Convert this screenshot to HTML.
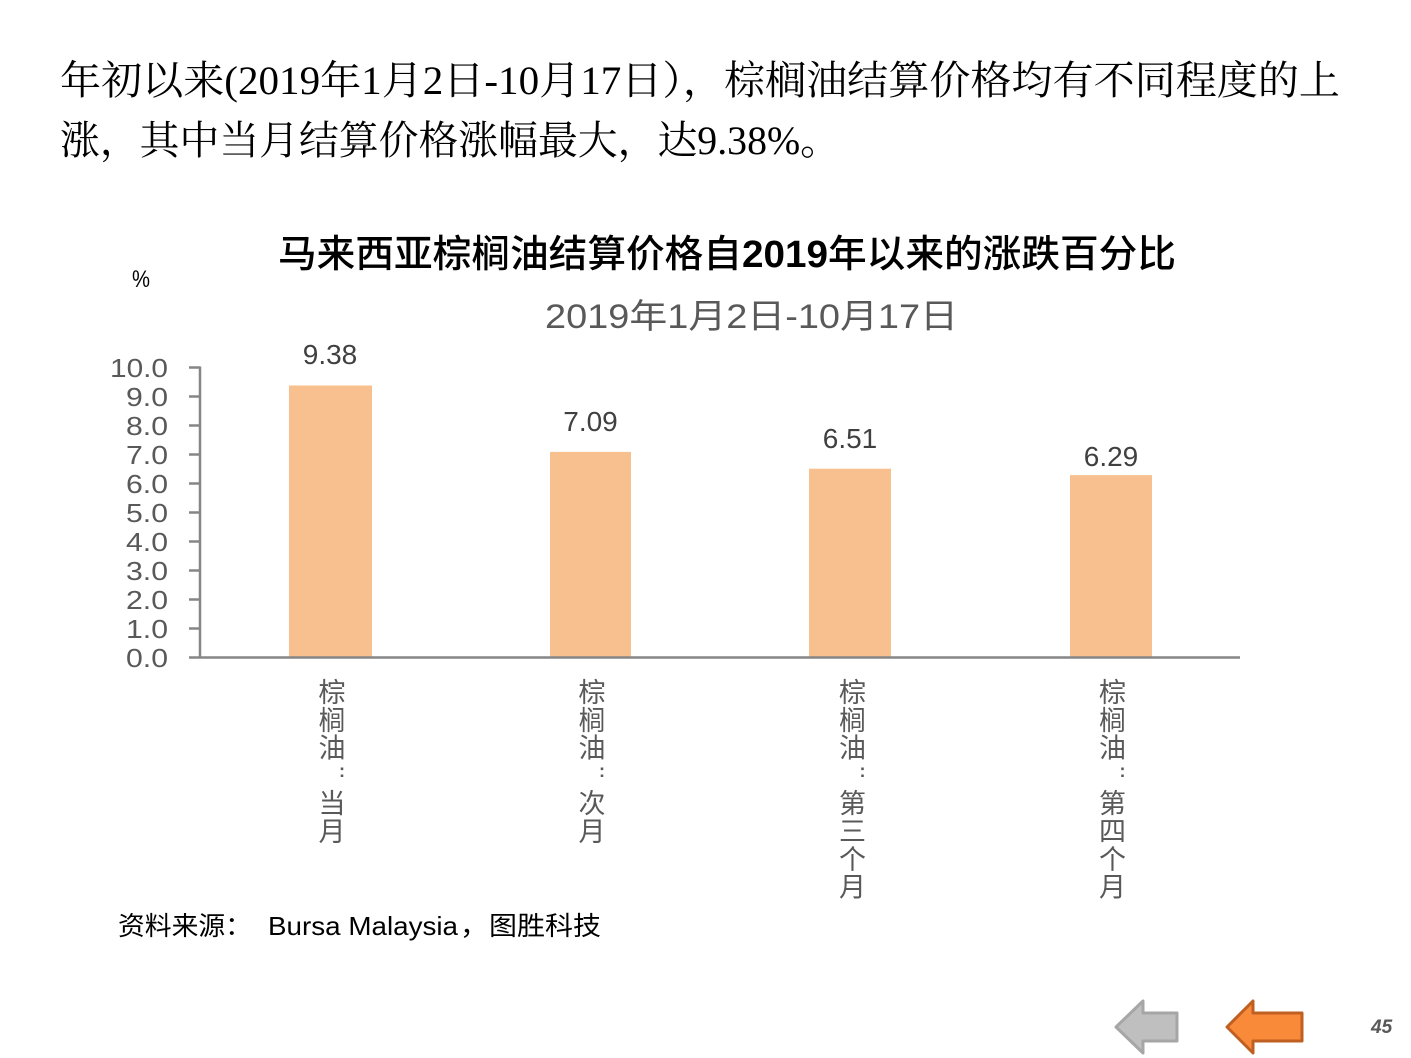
<!DOCTYPE html>
<html>
<head>
<meta charset="utf-8">
<style>
  html, body { margin: 0; padding: 0; background: #ffffff; }
  body { width: 1411px; height: 1058px; overflow: hidden; }
  svg { display: block; }
</style>
</head>
<body>
<svg width="1411" height="1058" viewBox="0 0 1411 1058" xmlns="http://www.w3.org/2000/svg">
  <rect x="0" y="0" width="1411" height="1058" fill="#ffffff"/>

  <!-- Body text -->
  <g font-family="'Liberation Serif', 'Noto Serif CJK SC', serif" font-size="40" fill="#000000">
    <text x="60" y="94" textLength="1280" lengthAdjust="spacingAndGlyphs">年初以来(2019年1月2日-10月17日），棕榈油结算价格均有不同程度的上</text>
    <text x="60" y="154" textLength="780" lengthAdjust="spacingAndGlyphs">涨，其中当月结算价格涨幅最大，达9.38%。</text>
  </g>

  <!-- Chart title -->
  <text x="278" y="267" font-family="'Liberation Sans', 'Noto Sans CJK SC', sans-serif" font-size="38" font-weight="500" fill="#000000" textLength="898" lengthAdjust="spacingAndGlyphs">马来西亚棕榈油结算价格自<tspan font-weight="bold">2019</tspan>年以来的涨跌百分比</text>

  <!-- Subtitle -->
  <text x="545" y="328" font-family="'Liberation Sans', 'Noto Sans CJK SC', sans-serif" font-size="34" fill="#595959" textLength="413" lengthAdjust="spacingAndGlyphs">2019年1月2日-10月17日</text>

  <!-- % unit -->
  <text x="132" y="287" font-family="'Liberation Sans', sans-serif" font-size="24" fill="#000000" textLength="18" lengthAdjust="spacingAndGlyphs">%</text>

  <!-- Y tick labels -->
  <g font-family="'Liberation Sans', sans-serif" font-size="26" fill="#595959">
    <text x="110" y="376.8" textLength="58" lengthAdjust="spacingAndGlyphs">10.0</text>
    <text x="126" y="405.8" textLength="42" lengthAdjust="spacingAndGlyphs">9.0</text>
    <text x="126" y="434.8" textLength="42" lengthAdjust="spacingAndGlyphs">8.0</text>
    <text x="126" y="463.8" textLength="42" lengthAdjust="spacingAndGlyphs">7.0</text>
    <text x="126" y="492.8" textLength="42" lengthAdjust="spacingAndGlyphs">6.0</text>
    <text x="126" y="521.8" textLength="42" lengthAdjust="spacingAndGlyphs">5.0</text>
    <text x="126" y="550.8" textLength="42" lengthAdjust="spacingAndGlyphs">4.0</text>
    <text x="126" y="579.8" textLength="42" lengthAdjust="spacingAndGlyphs">3.0</text>
    <text x="126" y="608.8" textLength="42" lengthAdjust="spacingAndGlyphs">2.0</text>
    <text x="126" y="637.8" textLength="42" lengthAdjust="spacingAndGlyphs">1.0</text>
    <text x="126" y="666.8" textLength="42" lengthAdjust="spacingAndGlyphs">0.0</text>
  </g>

  <!-- Bars -->
  <g fill="#F8C08E">
    <rect x="289" y="385.5" width="83" height="272"/>
    <rect x="550" y="451.9" width="81" height="205.6"/>
    <rect x="809" y="468.7" width="82" height="188.8"/>
    <rect x="1070" y="475.1" width="82" height="182.4"/>
  </g>

  <!-- Axes -->
  <g stroke="#868686" stroke-width="2.5" fill="none">
    <line x1="200" y1="366.5" x2="200" y2="658"/>
    <line x1="189" y1="657.5" x2="1240" y2="657.5"/>
    <line x1="189" y1="367.5" x2="200" y2="367.5"/>
    <line x1="189" y1="396.5" x2="200" y2="396.5"/>
    <line x1="189" y1="425.5" x2="200" y2="425.5"/>
    <line x1="189" y1="454.5" x2="200" y2="454.5"/>
    <line x1="189" y1="483.5" x2="200" y2="483.5"/>
    <line x1="189" y1="512.5" x2="200" y2="512.5"/>
    <line x1="189" y1="541.5" x2="200" y2="541.5"/>
    <line x1="189" y1="570.5" x2="200" y2="570.5"/>
    <line x1="189" y1="599.5" x2="200" y2="599.5"/>
    <line x1="189" y1="628.5" x2="200" y2="628.5"/>
  </g>

  <!-- Data labels -->
  <g font-family="'Liberation Sans', sans-serif" font-size="28" fill="#404040" text-anchor="middle">
    <text x="330" y="364">9.38</text>
    <text x="590.5" y="431">7.09</text>
    <text x="850" y="448">6.51</text>
    <text x="1111" y="466">6.29</text>
  </g>

  <!-- Category labels (vertical) -->
  <g font-family="'Liberation Sans', 'Noto Sans CJK SC', sans-serif" font-size="27" fill="#595959" text-anchor="middle">
    <!-- 1 -->
    <text x="332" y="702">棕</text>
    <text x="332" y="729.8">榈</text>
    <text x="332" y="757.6">油</text>
    <text x="342" y="777" font-size="18" font-weight="bold">:</text>
    <text x="332" y="813.2">当</text>
    <text x="332" y="841">月</text>
    <!-- 2 -->
    <text x="592" y="702">棕</text>
    <text x="592" y="729.8">榈</text>
    <text x="592" y="757.6">油</text>
    <text x="602" y="777" font-size="18" font-weight="bold">:</text>
    <text x="592" y="813.2">次</text>
    <text x="592" y="841">月</text>
    <!-- 3 -->
    <text x="852.5" y="702">棕</text>
    <text x="852.5" y="729.8">榈</text>
    <text x="852.5" y="757.6">油</text>
    <text x="862.5" y="777" font-size="18" font-weight="bold">:</text>
    <text x="852.5" y="813.2">第</text>
    <text x="852.5" y="841">三</text>
    <text x="852.5" y="868.8">个</text>
    <text x="852.5" y="896.6">月</text>
    <!-- 4 -->
    <text x="1112.5" y="702">棕</text>
    <text x="1112.5" y="729.8">榈</text>
    <text x="1112.5" y="757.6">油</text>
    <text x="1122.5" y="777" font-size="18" font-weight="bold">:</text>
    <text x="1112.5" y="813.2">第</text>
    <text x="1112.5" y="841">四</text>
    <text x="1112.5" y="868.8">个</text>
    <text x="1112.5" y="896.6">月</text>
  </g>

  <!-- Source -->
  <g font-family="'Liberation Sans', 'Noto Sans CJK SC', sans-serif" font-size="26" fill="#000000">
    <text x="118" y="935" textLength="134" lengthAdjust="spacingAndGlyphs">资料来源：</text>
    <text x="268" y="935" textLength="190" lengthAdjust="spacingAndGlyphs">Bursa Malaysia</text>
    <text x="460" y="935" textLength="28" lengthAdjust="spacingAndGlyphs">，</text>
    <text x="489" y="935" textLength="112" lengthAdjust="spacingAndGlyphs">图胜科技</text>
  </g>

  <!-- Navigation arrows -->
  <polygon points="1116,1027 1143,1001 1143,1013 1177,1013 1177,1041 1143,1041 1143,1053"
           fill="#BFBFBF" stroke="#A6A6A6" stroke-width="3" stroke-linejoin="round"/>
  <polygon points="1227,1027 1253,1001 1253,1013 1302,1013 1302,1041 1253,1041 1253,1053"
           fill="#F88A3A" stroke="#BF5F22" stroke-width="3" stroke-linejoin="round"/>

  <!-- Page number -->
  <text x="1371" y="1033" font-family="'Liberation Sans', sans-serif" font-size="19" font-weight="bold" font-style="italic" fill="#595959">45</text>
</svg>
</body>
</html>
